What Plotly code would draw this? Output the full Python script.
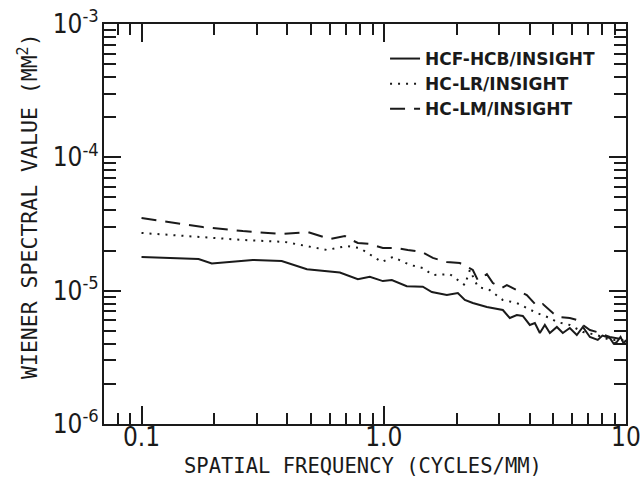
import plotly.graph_objects as go

# ---- data ----
freq_hcf = [0.100, 0.172, 0.195, 0.288, 0.379, 0.482, 0.659, 0.724, 0.782, 0.876, 0.992, 1.080,
            1.245, 1.450, 1.580, 1.822, 2.023, 2.162, 2.333, 2.666, 3.103, 3.316, 3.545, 3.752,
            4.011, 4.207, 4.412, 4.626, 4.852, 5.186, 5.488, 5.865, 6.27, 6.64, 7.10, 7.65,
            8.00, 8.58, 8.90, 9.17, 9.50, 9.80, 10.0]
wsv_hcf = [1.79e-5, 1.73e-5, 1.60e-5, 1.70e-5, 1.67e-5, 1.45e-5, 1.37e-5, 1.29e-5, 1.22e-5, 1.27e-5,
           1.18e-5, 1.20e-5, 1.08e-5, 1.07e-5, 9.77e-6, 9.28e-6, 9.61e-6, 8.51e-6, 8.08e-6, 7.54e-6,
           7.16e-6, 6.24e-6, 6.57e-6, 6.46e-6, 5.53e-6, 5.72e-6, 4.81e-6, 5.53e-6, 4.81e-6, 5.34e-6,
           4.81e-6, 5.25e-6, 4.65e-6, 5.34e-6, 4.49e-6, 4.27e-6, 4.60e-6, 4.42e-6, 4.00e-6, 4.12e-6,
           4.50e-6, 4.00e-6, 4.27e-6]

freq_lr = [0.100, 0.174, 0.262, 0.391, 0.582, 0.704, 0.797, 0.820, 0.982, 1.090, 1.282, 1.450,
           1.595, 1.875, 2.004, 2.162, 2.268, 2.446, 2.743, 3.103, 3.545, 3.898, 4.288, 4.852,
           5.186, 5.865, 6.64, 7.58, 8.58, 10.0]
wsv_lr = [2.71e-5, 2.53e-5, 2.40e-5, 2.32e-5, 2.02e-5, 2.16e-5, 2.09e-5, 2.02e-5, 1.64e-5, 1.79e-5,
          1.56e-5, 1.48e-5, 1.31e-5, 1.33e-5, 1.22e-5, 1.10e-5, 1.43e-5, 1.07e-5, 1.01e-5, 8.51e-6,
          8.08e-6, 7.41e-6, 6.80e-6, 6.24e-6, 5.82e-6, 5.53e-6, 4.90e-6, 4.65e-6, 4.27e-6, 4.27e-6]

freq_lm = [0.100, 0.140, 0.179, 0.262, 0.379, 0.486, 0.599, 0.691, 0.724, 0.782, 0.876, 0.992,
           1.133, 1.257, 1.437, 1.595, 1.822, 2.062, 2.333, 2.446, 2.666, 2.822, 3.074, 3.223,
           3.545, 3.898, 4.288, 4.539, 4.993, 5.236, 5.865, 6.27, 6.64, 7.10, 7.58, 8.58, 10.0]
wsv_lm = [3.51e-5, 3.22e-5, 3.00e-5, 2.80e-5, 2.66e-5, 2.75e-5, 2.44e-5, 2.57e-5, 2.44e-5, 2.28e-5,
          2.24e-5, 2.09e-5, 2.09e-5, 2.02e-5, 1.95e-5, 1.76e-5, 1.64e-5, 1.61e-5, 1.43e-5, 1.20e-5,
          1.33e-5, 1.14e-5, 1.05e-5, 1.10e-5, 1.01e-5, 9.28e-6, 7.67e-6, 7.94e-6, 6.80e-6, 6.35e-6,
          6.24e-6, 6.03e-6, 5.53e-6, 5.07e-6, 4.90e-6, 4.49e-6, 4.27e-6]

names = ["HCF-HCB/INSIGHT", "HC-LR/INSIGHT", "HC-LM/INSIGHT"]
x_tickvals = [0.1, 1, 10]
x_ticktext = ["0.1", "1.0", "10"]
y_tickvals = [1e-6, 1e-5, 1e-4, 1e-3]
y_ticktext = ["10<sup>-6</sup>", "10<sup>-5</sup>", "10<sup>-4</sup>", "10<sup>-3</sup>"]

INK = "#1a1a1a"
TICKFONT = "DejaVu Sans Condensed, DejaVu Sans, sans-serif"
TITLEFONT = "DejaVu Sans Mono, monospace"

fig = go.Figure()
fig.add_trace(go.Scatter(x=freq_hcf, y=wsv_hcf, mode="lines", name=names[0],
                         line=dict(color=INK, width=2, dash="solid")))
fig.add_trace(go.Scatter(x=freq_lr, y=wsv_lr, mode="lines", name=names[1],
                         line=dict(color=INK, width=2, dash="2px,6px")))
fig.add_trace(go.Scatter(x=freq_lm, y=wsv_lm, mode="lines", name=names[2],
                         line=dict(color=INK, width=2, dash="15px,9px")))

axis_common = dict(showgrid=False, zeroline=False, showline=True, linecolor=INK, linewidth=2,
                   ticks="inside", tickcolor=INK, tickwidth=2, mirror="allticks",
                   automargin=False, ticklabeloverflow="allow",
                   tickfont=dict(family=TICKFONT, size=26, color=INK))

fig.update_xaxes(type="log", range=[-1.1549, 1.0003], tickvals=x_tickvals, ticktext=x_ticktext,
                 ticklen=18, ticklabelstandoff=-11,
                 minor=dict(ticks="inside", ticklen=11, tickwidth=2, tickcolor=INK, dtick="D1"),
                 **axis_common)
fig.update_yaxes(type="log", range=[-6, -3], tickvals=y_tickvals, ticktext=y_ticktext,
                 ticklen=17, ticklabelstandoff=-2,
                 minor=dict(ticks="inside", ticklen=12, tickwidth=2, tickcolor=INK, dtick="D1"),
                 **axis_common)

fig.update_layout(
    width=640, height=493,
    margin=dict(l=104, r=14, t=24, b=69, autoexpand=False),
    paper_bgcolor="white", plot_bgcolor="white",
    showlegend=True,
    legend=dict(x=0.5384, y=0.9575, xanchor="left", yanchor="top",
                bgcolor="rgba(0,0,0,0)", borderwidth=0, tracegroupgap=0,
                font=dict(family="DejaVu Sans", size=17, color=INK, weight="bold")),
    annotations=[
        dict(text="SPATIAL FREQUENCY (CYCLES/MM)", xref="paper", yref="paper",
             x=0.496, y=-0.105, xanchor="center", yanchor="middle", showarrow=False,
             font=dict(family=TITLEFONT, size=20.5, color=INK)),
        dict(text="WIENER SPECTRAL VALUE (MM<sup>2</sup>)", xref="paper", yref="paper",
             x=-0.1456, y=0.545, xanchor="center", yanchor="middle", showarrow=False,
             textangle=-90, font=dict(family=TITLEFONT, size=21.5, color=INK)),
    ],
)

fig.write_html("out.html", config={"displayModeBar": False},
               post_script="document.body.style.margin='0';")
